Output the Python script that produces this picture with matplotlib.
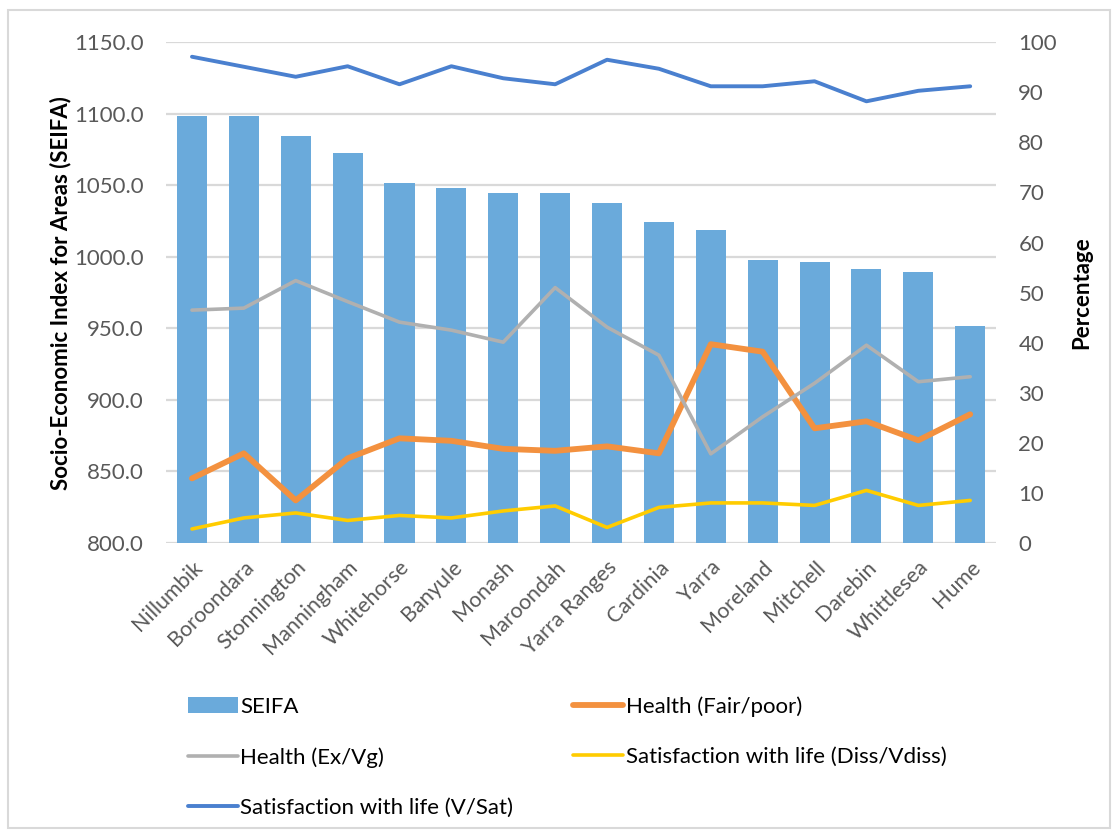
import matplotlib
matplotlib.use("Agg")
import matplotlib.pyplot as plt
from matplotlib.patches import Rectangle
import numpy as np

plt.rcParams['font.family'] = ['Lato', 'DejaVu Sans']

councils = ["Nillumbik", "Boroondara", "Stonnington", "Manningham", "Whitehorse",
            "Banyule", "Monash", "Maroondah", "Yarra Ranges", "Cardinia", "Yarra",
            "Moreland", "Mitchell", "Darebin", "Whittlesea", "Hume"]
seifa = [1098.1, 1098.1, 1084.4, 1072.3, 1051.6, 1048.1, 1044.9, 1044.9,
         1037.9, 1024.0, 1018.6, 997.9, 996.3, 991.2, 989.3, 951.6]
health_fair_poor = [12.9, 17.9, 8.5, 16.9, 20.9, 20.4, 18.8, 18.4,
                    19.3, 17.9, 39.7, 38.2, 22.9, 24.3, 20.5, 25.7]
health_ex_vg = [46.5, 46.9, 52.4, 48.2, 44.1, 42.5, 40.1, 51.0,
                43.1, 37.5, 17.8, 25.2, 31.9, 39.5, 32.2, 33.2]
sat_diss = [2.8, 5.0, 6.0, 4.5, 5.5, 5.0, 6.4, 7.4,
            3.1, 7.1, 8.0, 8.0, 7.5, 10.5, 7.5, 8.5]
sat_vsat = [97.1, 95.1, 93.1, 95.2, 91.6, 95.2, 92.8, 91.6,
            96.5, 94.7, 91.2, 91.2, 92.2, 88.2, 90.3, 91.2]

grey_txt = '#595959'
grid_col = '#d9d9d9'

fig = plt.figure(figsize=(11.18, 8.36), dpi=100)
ax = fig.add_axes([0.1485, 0.3505, 0.7425, 0.599])
ax2 = ax.twinx()

x = np.arange(len(councils))
bars = ax.bar(x, seifa, width=0.58, color='#6aaadb', zorder=2, label='SEIFA')
ax.set_ylim(800, 1150)
ax.set_xlim(-0.5, len(councils) - 0.5)
ax.set_yticks(np.arange(800, 1151, 50))
ax.set_yticklabels(["%.1f" % v for v in np.arange(800, 1151, 50)])
ax.yaxis.grid(True, color=grid_col, linewidth=1.6, zorder=0)
ax.set_axisbelow(True)
ax.set_xticks(x)
ax.set_xticklabels(councils, rotation=45, ha='right', rotation_mode='anchor')
ax.tick_params(axis='y', length=0, pad=16, labelsize=16, labelcolor=grey_txt)
ax.tick_params(axis='x', length=0, pad=10, labelsize=15.5, labelcolor=grey_txt)
for s in ax.spines.values():
    s.set_visible(False)
ax.set_ylabel('Socio-Economic Index for Areas (SEIFA)', fontsize=16,
              fontweight='bold', labelpad=2)

l1, = ax2.plot(x, health_fair_poor, color='#f3913f', lw=4.2, label='Health (Fair/poor)',
               solid_joinstyle='round', solid_capstyle='round')
l2, = ax2.plot(x, health_ex_vg, color='#b0b0b0', lw=2.6, label='Health (Ex/Vg)',
               solid_joinstyle='round', solid_capstyle='round')
l3, = ax2.plot(x, sat_diss, color='#ffcc00', lw=2.6, label='Satisfaction with life (Diss/Vdiss)',
               solid_joinstyle='round', solid_capstyle='round')
l4, = ax2.plot(x, sat_vsat, color='#4a80cf', lw=2.8, label='Satisfaction with life (V/Sat)',
               solid_joinstyle='round', solid_capstyle='round')
ax2.set_ylim(0, 100)
ax2.set_yticks(np.arange(0, 101, 10))
ax2.tick_params(axis='y', length=0, pad=16, labelsize=16, labelcolor=grey_txt)
for s in ax2.spines.values():
    s.set_visible(False)
ax2.set_ylabel('Percentage', fontsize=16, fontweight='bold', labelpad=10)

# column-major order so rows read SEIFA / Fair-poor, Ex-Vg / Diss, V-Sat
handles = [bars, l2, l4, l1, l3]
labels = [h.get_label() for h in handles]
fig.legend(handles, labels, loc='upper left', bbox_to_anchor=(0.168, 0.167),
           ncol=2, frameon=False, fontsize=16, handlelength=2.25,
           handletextpad=0.12, columnspacing=2.7, labelspacing=1.35,
           borderpad=0, borderaxespad=0)

fig.patches.append(Rectangle((0.007, 0.009), 0.986, 0.979, transform=fig.transFigure,
                             fill=False, edgecolor=grid_col, linewidth=1.5))

fig.savefig('out.png', dpi=100)
